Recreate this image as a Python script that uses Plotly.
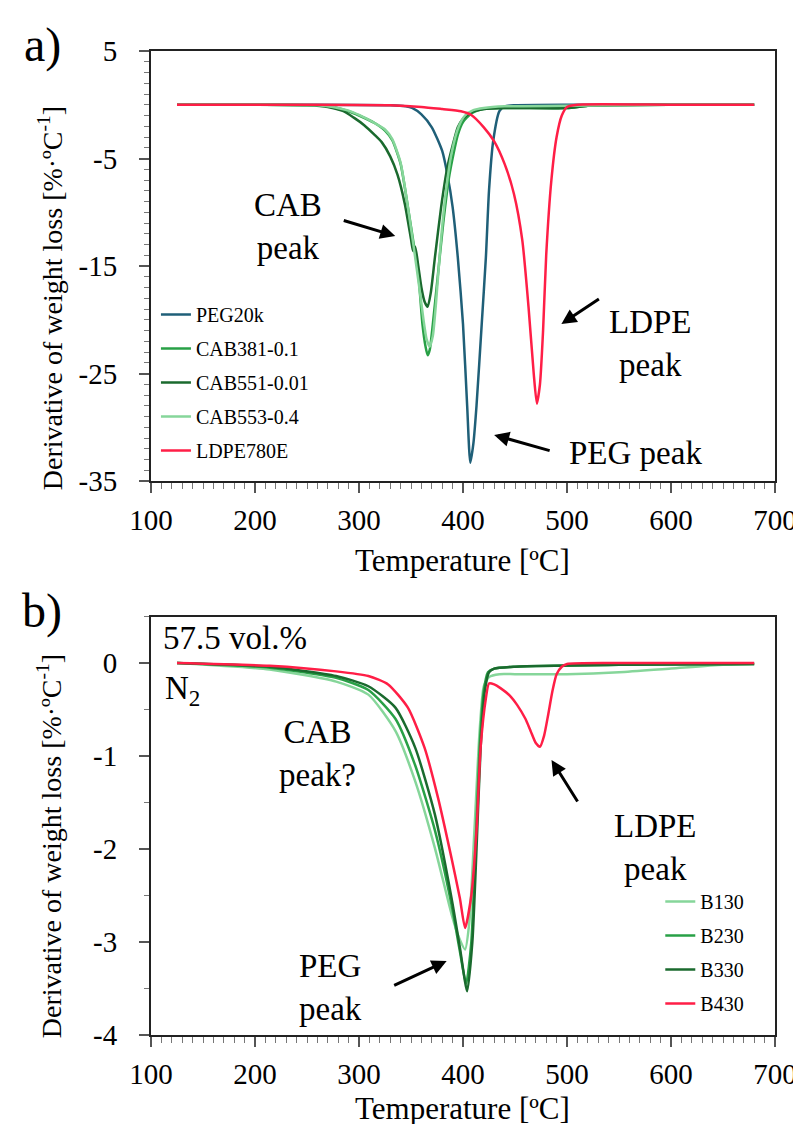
import plotly.graph_objects as go

FONT = "Liberation Serif"

# ---------------- Panel a) data (Temperature [ºC], DTG [%/ºC]) ----------------
T_PEG20K = [125, 250, 330, 345, 351, 360, 370, 380, 385, 390, 395, 400, 404, 407, 410, 413, 418, 422, 425, 429, 435, 440, 450, 500, 600, 680]
V_PEG20K = [0, 0, -0.05, -0.15, -0.3, -0.9, -2.1, -4.3, -6.5, -9.5, -14.2, -20.4, -28, -33.3, -31.5, -28, -20.4, -14.2, -8, -3.4, -0.6, -0.15, -0.05, 0, 0, 0]

T_CAB381 = [125, 200, 260, 275, 290, 300, 315, 325, 332, 340, 347, 353, 357, 361, 364, 366, 368, 371, 376, 381, 387, 395, 400, 408, 420, 440, 500, 520, 600, 680]
V_CAB381 = [0, 0, -0.05, -0.2, -0.6, -1.0, -1.7, -2.4, -3.3, -5.5, -9.5, -13.2, -15.7, -20.4, -22.5, -23.3, -22.8, -20.4, -15.7, -11, -6.5, -2.8, -1.6, -0.8, -0.4, -0.3, -0.3, -0.1, 0, 0]

T_CAB551 = [125, 200, 250, 270, 285, 295, 305, 315, 322, 330, 337, 344, 350, 352, 354, 357, 360, 363, 366, 369, 373, 379, 385, 390, 395, 400, 408, 420, 440, 500, 520, 600, 680]
V_CAB551 = [0, 0, -0.05, -0.2, -0.6, -1.2, -1.9, -2.8, -3.5, -4.8, -6.5, -9.2, -12.5, -13.6, -13.2, -15, -17, -18.3, -18.8, -17.5, -14.2, -9.5, -5.8, -3.8, -2.1, -1.3, -0.7, -0.4, -0.3, -0.3, -0.1, 0, 0]

T_CAB553 = [125, 200, 260, 275, 290, 300, 315, 325, 332, 340, 347, 353, 358, 362, 365, 368, 371, 374, 378, 383, 389, 396, 402, 410, 420, 440, 500, 600, 680]
V_CAB553 = [0, 0, -0.05, -0.2, -0.55, -0.95, -1.7, -2.3, -3.2, -5.4, -9.5, -13.5, -17, -20, -21.8, -22.5, -21.5, -18.5, -13.5, -8.5, -4.5, -2, -1.0, -0.5, -0.3, -0.15, -0.1, 0, 0]

T_LDPE780E = [125, 250, 330, 360, 380, 398, 408, 420, 430, 440, 449, 457, 463, 468, 471, 474, 477, 480, 485, 490, 495, 500, 510, 600, 680]
V_LDPE780E = [0, 0, -0.05, -0.2, -0.4, -0.6, -0.95, -2.1, -3.4, -5.5, -8.3, -12.6, -18.8, -25, -27.8, -26, -21, -14, -7, -3, -1, -0.2, 0, 0, 0]

# ---------------- Panel b) data ----------------
T_B130 = [125, 214, 278, 309, 335, 354, 373, 389, 396, 402, 406, 411, 416, 420, 425, 435, 450, 500, 550, 600, 650, 680]
V_B130 = [0, -0.07, -0.2, -0.34, -0.73, -1.27, -1.99, -2.7, -2.95, -3.08, -2.8, -1.8, -0.73, -0.25, -0.15, -0.12, -0.12, -0.12, -0.1, -0.06, -0.02, -0.01]

T_B230 = [125, 214, 278, 309, 335, 354, 373, 389, 397, 403, 408, 412, 416, 420, 424, 430, 450, 550, 680]
V_B230 = [0, -0.05, -0.16, -0.29, -0.6, -1.1, -1.8, -2.6, -3.1, -3.45, -3.0, -2.0, -0.9, -0.3, -0.1, -0.06, -0.04, -0.02, -0.01]

T_B330 = [125, 214, 278, 309, 335, 354, 373, 389, 397, 404, 409, 413, 417, 421, 425, 430, 450, 550, 680]
V_B330 = [0, -0.04, -0.14, -0.25, -0.48, -0.91, -1.63, -2.53, -3.06, -3.53, -3.0, -2.0, -0.9, -0.3, -0.1, -0.06, -0.04, -0.02, -0.01]

T_B430 = [125, 214, 278, 309, 328, 347, 363, 376, 389, 397, 402, 408, 413, 417, 422, 425, 430, 436, 445, 452, 460, 465, 470, 474, 478, 482, 486, 490, 495, 500, 550, 680]
V_B430 = [0, -0.03, -0.09, -0.14, -0.23, -0.48, -0.91, -1.45, -2.1, -2.53, -2.85, -2.5, -1.8, -0.9, -0.38, -0.22, -0.23, -0.27, -0.35, -0.45, -0.6, -0.73, -0.86, -0.9, -0.78, -0.55, -0.3, -0.12, -0.04, -0.01, 0, 0]

# ---------------- ticks ----------------
X_TICKS = [100, 200, 300, 400, 500, 600, 700]
YA_TICKS = [5, -5, -15, -25, -35]
YB_TICKS = [0, -1, -2, -3, -4]

C_PEG = "#1f5f78"
C_MED = "#28a046"
C_DARK = "#1a6a2e"
C_LIGHT = "#86d69a"
C_RED = "#ff1e46"

fig = go.Figure()


def add(T, V, name, color, xa, ya, legend):
    fig.add_trace(go.Scatter(
        x=T, y=V, name=name, mode="lines",
        line=dict(color=color, width=2.5, shape="spline", smoothing=0.6),
        xaxis=xa, yaxis=ya, legend=legend, legendgroup=name))


add(T_PEG20K, V_PEG20K, "PEG20k", C_PEG, "x", "y", "legend")
add(T_CAB381, V_CAB381, "CAB381-0.1", C_MED, "x", "y", "legend")
add(T_CAB551, V_CAB551, "CAB551-0.01", C_DARK, "x", "y", "legend")
add(T_CAB553, V_CAB553, "CAB553-0.4", C_LIGHT, "x", "y", "legend")
add(T_LDPE780E, V_LDPE780E, "LDPE780E", C_RED, "x", "y", "legend")

add(T_B130, V_B130, "B130", C_LIGHT, "x2", "y2", "legend2")
add(T_B230, V_B230, "B230", C_MED, "x2", "y2", "legend2")
add(T_B330, V_B330, "B330", C_DARK, "x2", "y2", "legend2")
add(T_B430, V_B430, "B430", C_RED, "x2", "y2", "legend2")

W, H = 801, 1124
ML, MR, MT, MB = 143, 27, 43, 97
PW, PH = W - ML - MR, H - MT - MB


def xp(px):
    return (px - ML) / PW


def yp(py):
    return (H - MB - py) / PH


tickfont = dict(family=FONT, size=29, color="black")


def xaxis_cfg(anchor):
    return dict(
        range=[100, 700], tickmode="array", tickvals=X_TICKS, ticktext=[str(v) for v in X_TICKS],
        ticks="outside", ticklen=10, tickwidth=1.5, tickcolor="#555",
        showline=True, linecolor="#222", linewidth=2, mirror=True,
        showgrid=False, zeroline=False, tickfont=tickfont, ticklabelstandoff=2,
        minor=dict(tick0=100, dtick=10, ticks="outside", ticklen=6, tickcolor="#777", tickwidth=1),
        anchor=anchor)


def yaxis_cfg(rng, ticks, mdtick, domain, anchor):
    return dict(
        range=rng, tickmode="array", tickvals=ticks, ticktext=[str(v) for v in ticks],
        ticks="outside", ticklen=10, tickwidth=1.5, tickcolor="#555",
        showline=True, linecolor="#222", linewidth=2, mirror=True,
        showgrid=False, zeroline=False, tickfont=tickfont, ticklabelstandoff=16,
        minor=dict(tick0=0, dtick=mdtick, ticks="outside", ticklen=5, tickcolor="#777", tickwidth=1),
        domain=domain, anchor=anchor)


ya_bottom = yp(473)
yb_top = yp(608.5)

fig.update_layout(
    width=W, height=H,
    margin=dict(l=ML, r=MR, t=MT, b=MB),
    paper_bgcolor="white", plot_bgcolor="white",
    font=dict(family=FONT, color="black"),
    xaxis=xaxis_cfg("y"),
    yaxis=yaxis_cfg([-35, 5], YA_TICKS, 1, [ya_bottom, 1.0], "x"),
    xaxis2=xaxis_cfg("y2"),
    yaxis2=yaxis_cfg([-4, 0.5], YB_TICKS, 0.5, [0, yb_top], "x2"),
    legend=dict(x=xp(148), y=yp(287), xanchor="left", yanchor="top",
                bgcolor="rgba(0,0,0,0)", font=dict(family=FONT, size=20, color="black"),
                traceorder="grouped", tracegroupgap=5, itemwidth=30),
    legend2=dict(x=xp(658), y=yp(874), xanchor="left", yanchor="top",
                 bgcolor="rgba(0,0,0,0)", font=dict(family=FONT, size=20, color="black"),
                 traceorder="grouped", tracegroupgap=5, itemwidth=30),
    showlegend=True,
)

ann = []


def text(px, py, s, size, xanchor="center", **kw):
    ann.append(dict(x=xp(px), y=yp(py), xref="paper", yref="paper", text=s, showarrow=False,
                    xanchor=xanchor, yanchor="middle",
                    font=dict(family=FONT, size=size, color="black"), **kw))


def arrow(hx, hy, tx, ty):
    ann.append(dict(x=xp(hx), y=yp(hy), xref="paper", yref="paper", text="", showarrow=True,
                    ax=tx - hx, ay=ty - hy, arrowhead=2, arrowsize=1, arrowwidth=3,
                    arrowcolor="black"))


# panel labels
text(33, 37, "a)", 48)
text(33, 603, "b)", 48)

# axis titles
text(41, 290, "Derivative of weight loss [%·ºC<sup>-1</sup>]", 28, textangle=-90)
text(41, 838, "Derivative of weight loss [%·ºC<sup>-1</sup>]", 28, textangle=-90)
text(458, 552, "Temperature [ºC]", 31)
text(458, 1100, "Temperature [ºC]", 31)

# panel a annotations
text(282, 218, "CAB<br>peak", 33)
arrow(390, 228, 337, 212)
text(648, 336, "LDPE<br>peak", 33)
arrow(558, 316, 597, 290)
text(633, 445, "PEG peak", 33)
arrow(490, 427, 547, 443)

# panel b annotations
text(153, 630, "57.5 vol.%", 33, xanchor="left")
text(155, 682, "N<sub>2</sub>", 33, xanchor="left")
text(311, 746, "CAB<br>peak?", 33)
text(325, 979, "PEG<br>peak", 33)
arrow(442, 953, 388, 978)
text(653, 839, "LDPE<br>peak", 33)
arrow(548, 752, 575, 795)

fig.update_layout(annotations=ann)

fig.write_html("out.html")
